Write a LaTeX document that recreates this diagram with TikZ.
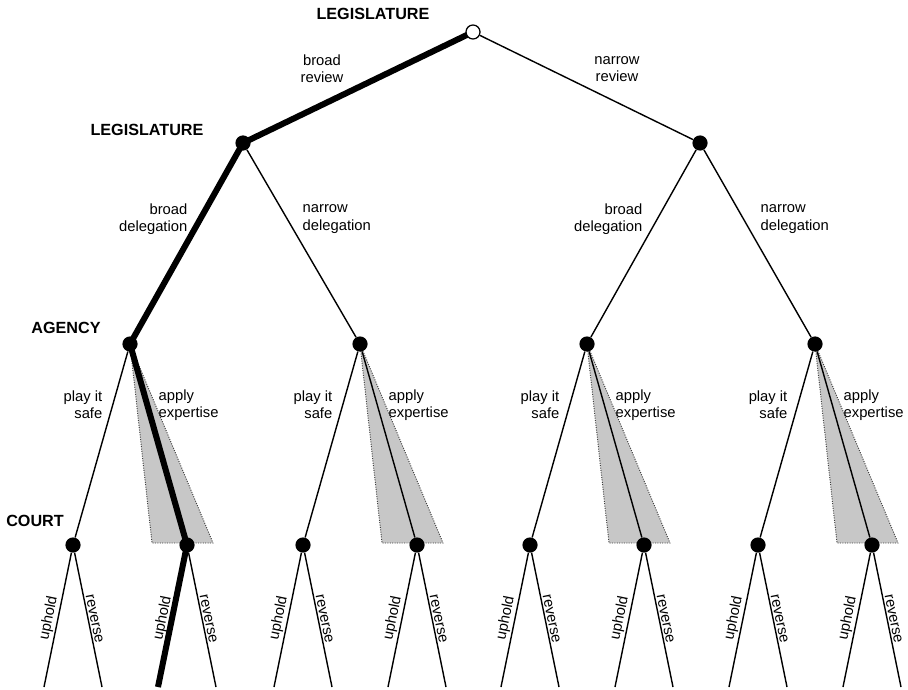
\documentclass[tikz,border=0pt]{standalone}
\usepackage{fontspec}
\setmainfont{Liberation Sans}
\usepackage{tikz}
\usetikzlibrary{positioning, calc, backgrounds}

\begin{document}
\begin{tikzpicture}[x=0.025cm, y=-0.025cm,
    choice/.style={circle, fill=black, inner sep=0pt, minimum size=3.8mm},
    start/.style={circle, draw=black, fill=white, line width=0.9pt, inner sep=0pt, minimum size=3.5mm},
    player/.style={font=\fontsize{11.5}{13}\selectfont\bfseries, inner sep=0pt},
    move/.style={font=\fontsize{10.5}{12.2}\selectfont, inner sep=1pt},
    branch/.style={line width=1pt},
    played/.style={line width=4.3pt},
    expertise/.style={fill=black!22, draw=black!75, densely dotted, line width=0.7pt}]

  \useasboundingbox (0,0) rectangle (908,690);

  \node[start] (root) at (473,32) {};
  \node[choice] (legL) at (243,143) {};
  \node[choice] (legR) at (700,143) {};

  \foreach \i/\x in {1/130, 2/360, 3/587, 4/815} {
    \node[choice] (ag\i) at (\x,344) {};
    \node[choice] (cs\i) at (\x-57,545) {};
    \node[choice] (ce\i) at (\x+57,545) {};
    \coordinate (su\i) at ($(cs\i)+(-29,142)$);
    \coordinate (sr\i) at ($(cs\i)+(29,142)$);
    \coordinate (eu\i) at ($(ce\i)+(-29,142)$);
    \coordinate (er\i) at ($(ce\i)+(29,142)$);
    \node[move, anchor=east, align=right] (safe\i) at (\x-26,405) {play it\\safe};
    \node[move, anchor=west, align=left] (appl\i) at (\x+27,405) {apply\\expertise};
  }

  \node[player] (tLegTop) at (373,14) {LEGISLATURE};
  \node[player] (tLeg) at (147,130) {LEGISLATURE};
  \node[player] (tAgency) at (66,328) {AGENCY};
  \node[player] (tCourt) at (35,521) {COURT};

  \node[move, align=center] (bReview) at (322,69) {broad\\review};
  \node[move, align=center] (nReview) at (617,69) {narrow\\review};
  \node[move, anchor=east, align=right] (bDel1) at (189,219) {broad\\delegation};
  \node[move, anchor=west, align=left] (nDel1) at (301,219) {narrow\\delegation};
  \node[move, anchor=east, align=right] (bDel2) at (644,219) {broad\\delegation};
  \node[move, anchor=west, align=left] (nDel2) at (759,219) {narrow\\delegation};

  \begin{scope}[on background layer]
    \foreach \i in {1,...,4}
      \filldraw[expertise] (ag\i.center) -- ++(22,199) -- ++(61,0) -- cycle;

    \draw[branch] (root) -- (legL);
    \draw[branch] (root) -- (legR);
    \draw[branch] (legL) -- (ag1);
    \draw[branch] (legL) -- (ag2);
    \draw[branch] (legR) -- (ag3);
    \draw[branch] (legR) -- (ag4);

    \foreach \i in {1,...,4} {
      \draw[branch] (ag\i) -- (cs\i);
      \draw[branch] (ag\i) -- (ce\i);
      \draw[branch] (cs\i) -- (su\i) node[move, midway, above, sloped] {uphold};
      \draw[branch] (cs\i) -- (sr\i) node[move, midway, above, sloped] {reverse};
      \draw[branch] (ce\i) -- (eu\i) node[move, midway, above, sloped] {uphold};
      \draw[branch] (ce\i) -- (er\i) node[move, midway, above, sloped] {reverse};
    }

    \draw[played] (root.center) -- (legL.center) -- (ag1.center) -- (ce1.center) -- (eu1);
  \end{scope}
\end{tikzpicture}
\end{document}
